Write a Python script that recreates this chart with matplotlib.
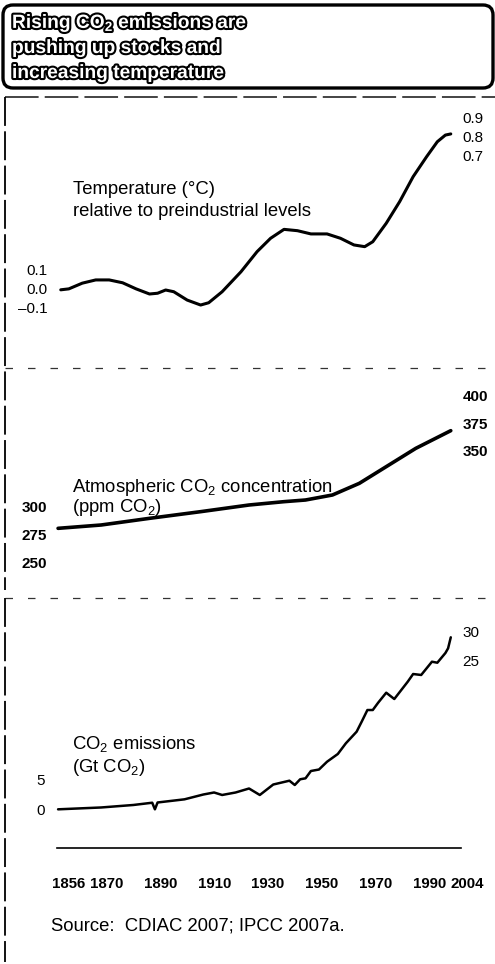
import matplotlib
matplotlib.use("Agg")
import matplotlib.pyplot as plt
from matplotlib.patches import FancyBboxPatch
from matplotlib import patheffects, transforms

plt.rcParams['font.family'] = ['Liberation Sans', 'DejaVu Sans']
plt.rcParams['mathtext.fontset'] = 'custom'
plt.rcParams['mathtext.rm'] = 'Liberation Sans'
plt.rcParams['mathtext.it'] = 'Liberation Sans:italic'
plt.rcParams['mathtext.bf'] = 'Liberation Sans:bold'

# values
temp_years = [1857, 1860, 1865, 1870, 1875, 1880, 1885, 1890, 1893, 1896, 1899, 1904,
              1909, 1912, 1917, 1924, 1930, 1935, 1940, 1945, 1950, 1956, 1961, 1966,
              1970, 1973, 1978, 1983, 1988, 1993, 1997, 2000, 2002]
temp_vals = [-0.005, 0.0, 0.03, 0.047, 0.047, 0.032, 0.0, -0.027, -0.023, -0.006, -0.015, -0.059,
             -0.085, -0.073, -0.015, 0.09, 0.196, 0.266, 0.313, 0.306, 0.289, 0.289, 0.266, 0.231,
             0.222, 0.248, 0.345, 0.459, 0.59, 0.695, 0.774, 0.809, 0.815]

co2_years = [1856, 1872, 1890, 1909, 1927, 1940, 1948, 1958, 1968, 1977, 1989, 2002]
co2_vals = [280.3, 283.3, 289.3, 295.3, 301.3, 304.3, 305.8, 310.3, 320.8, 334.3, 352.3, 368.2]

emis_years = [1856, 1872, 1884, 1891, 1892, 1893, 1903, 1910, 1914, 1917, 1922, 1927, 1931,
              1936, 1942, 1944, 1946, 1948, 1950, 1953, 1956, 1960, 1963, 1967, 1969, 1971,
              1973, 1975, 1978, 1981, 1986, 1988, 1991, 1995, 1997, 2000, 2001, 2002]
emis_vals = [0.03, 0.34, 0.76, 1.14, 0.03, 1.18, 1.71, 2.52, 2.86, 2.44, 2.86, 3.53, 2.44,
             4.2, 4.84, 4.12, 5.08, 5.24, 6.47, 6.72, 8.03, 9.33, 11.13, 13.08, 14.87, 16.72,
             16.72, 17.95, 19.63, 18.57, 21.48, 22.77, 22.61, 24.84, 24.67, 26.3, 27.09, 28.94]

year_ticks = [1856, 1870, 1890, 1910, 1930, 1950, 1970, 1990, 2004]

temp_left = [-0.1, 0.0, 0.1]
temp_left_labels = ['\u20130.1', '0.0', '0.1']
temp_right = [0.7, 0.8, 0.9]
temp_right_labels = ['0.7', '0.8', '0.9']
co2_left = [250, 275, 300]
co2_right = [350, 375, 400]
emis_left = [0, 5]
emis_right = [25, 30]

title_lines = [r'Rising CO$_\mathbf{2}$ emissions are', 'pushing up stocks and',
               'increasing temperature']
source = 'Source:  CDIAC 2007; IPCC 2007a.'

W, H = 495, 964
fig = plt.figure(figsize=(W / 100, H / 100), dpi=100)
fig.patch.set_facecolor('white')


def rect(left, top, right, bottom):
    return [left / W, 1 - bottom / H, (right - left) / W, (bottom - top) / H]


# background layer in pixel coordinates for the frames and the heading
bg = fig.add_axes([0, 0, 1, 1])
bg.set_xlim(0, W)
bg.set_ylim(H, 0)
bg.axis('off')

bg.add_patch(FancyBboxPatch((3, 5), 490, 83, boxstyle='round,pad=0,rounding_size=10',
                            fc='none', ec='black', lw=2.4))
bg.plot([5, 495], [97, 97], color='#111111', lw=1.1, ls=(0, (22, 4)))
bg.plot([5, 495], [368, 368], color='#333333', lw=0.9, ls=(0, (6, 12)))
bg.plot([5, 495], [598, 598], color='#333333', lw=0.9, ls=(0, (6, 12)))
bg.plot([5, 5], [97, 590], color='black', lw=1.3, ls=(0, (16, 3)))
bg.plot([5, 5], [598, 962], color='black', lw=1.3, ls=(0, (16, 3)))

outline = [patheffects.withStroke(linewidth=3, foreground='black')]
for i, line in enumerate(title_lines):
    bg.text(12, 28 + 25 * i, line, fontsize=13.8, fontweight='bold', color='white',
            va='baseline', ha='left', path_effects=outline)

lab = dict(fontsize=13.3, va='center')
bg.text(73, 190, 'Temperature (\u00b0C)', **lab)
bg.text(73, 211, 'relative to preindustrial levels', **lab)
bg.text(72, 487, r'Atmospheric CO$_2$ concentration', **lab)
bg.text(72, 508, r'(ppm CO$_2$)', **lab)
bg.text(72, 744, r'CO$_2$ emissions', **lab)
bg.text(72, 767, r'(Gt CO$_2$)', **lab)
bg.text(51, 926, source, **lab)

xlim = (1853.0, 2005.8)


def panel(box, ylim):
    ax = fig.add_axes(rect(*box))
    ax.set_facecolor('none')
    ax.set_xlim(*xlim)
    ax.set_ylim(*ylim)
    for s in ax.spines.values():
        s.set_visible(False)
    ax.tick_params(length=0, labelsize=11)
    ax.set_xticks([])
    return ax


# temperature
ax1 = panel((50, 100, 461, 365), (-0.4005, 0.9935))
ax1.plot(temp_years, temp_vals, color='black', lw=2.2,
         solid_capstyle='round', solid_joinstyle='round')
ax1.set_yticks(temp_left, labels=temp_left_labels)
ax1.tick_params(axis='y', pad=2)
r1 = ax1.secondary_yaxis('right')
r1.set_yticks(temp_right, labels=temp_right_labels)
r1.tick_params(length=0, labelsize=11, pad=1)
r1.spines['right'].set_visible(False)

# CO2 concentration
ax2 = panel((50, 370, 461, 595), (220.3, 422.8))
ax2.plot(co2_years, co2_vals, color='black', lw=2.6,
         solid_capstyle='round', solid_joinstyle='round')
ax2.set_yticks(co2_left)
ax2.tick_params(axis='y', pad=2)
for t in ax2.get_yticklabels():
    t.set_fontweight('bold')
r2 = ax2.secondary_yaxis('right')
r2.set_yticks(co2_right)
r2.tick_params(length=0, labelsize=11, pad=1)
r2.spines['right'].set_visible(False)
for t in r2.get_yticklabels():
    t.set_fontweight('bold')

# emissions
ax3 = panel((50, 605, 461, 848), (-6.47, 34.37))
ax3.plot(emis_years, emis_vals, color='black', lw=1.8,
         solid_capstyle='round', solid_joinstyle='round')
ax3.set_yticks(emis_left)
ax3.tick_params(axis='y', pad=4)
r3 = ax3.secondary_yaxis('right')
r3.set_yticks(emis_right)
r3.tick_params(length=0, labelsize=11, pad=1)
r3.spines['right'].set_visible(False)
ax3.spines['bottom'].set_visible(True)
ax3.spines['bottom'].set_linewidth(1.2)
ax3.spines['bottom'].set_bounds(1855.6, 2005.8)
ax3.set_xticks(year_ticks)
ax3.tick_params(axis='x', length=0, pad=21, labelsize=10.8)
shift = transforms.ScaledTranslation(0.11, 0, fig.dpi_scale_trans)
for t in ax3.get_xticklabels():
    t.set_fontweight('bold')
    t.set_transform(t.get_transform() + shift)

fig.savefig('out.png', dpi=100, facecolor='white')
